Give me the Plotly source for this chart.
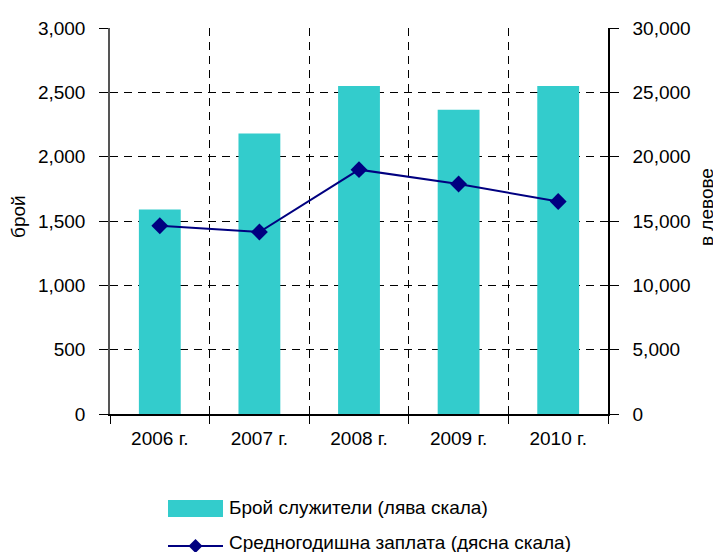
import plotly.graph_objects as go

years = ["2006 г.", "2007 г.", "2008 г.", "2009 г.", "2010 г."]
employees = [1590, 2180, 2550, 2365, 2550]
avg_salary = [14630, 14140, 18990, 17870, 16520]
left_ticks = [0, 500, 1000, 1500, 2000, 2500, 3000]
right_ticks = [0, 5000, 10000, 15000, 20000, 25000, 30000]
bar_name = "Брой служители (лява скала)"
line_name = "Средногодишна заплата (дясна скала)"
left_title = "брой"
right_title = "в левове"

FONT = "Liberation Sans Narrow, Arial Narrow, Liberation Sans, Arial, sans-serif"
BAR_COLOR = "#33CCCC"
LINE_COLOR = "#000080"

OFF = 8  # page body margin offset
W, H = 721 - OFF, 552 - OFF
# plot area in page pixels -> figure pixels
L, R, T, B = 110 - OFF, 608 - OFF, 28 - OFF, 414 - OFF

fig = go.Figure()
fig.add_trace(go.Bar(x=years, y=employees, name=bar_name, marker_color=BAR_COLOR,
                     marker_line_width=0, yaxis="y", showlegend=False))
fig.add_trace(go.Scatter(x=years, y=avg_salary, name=line_name, mode="lines+markers",
                         line=dict(color=LINE_COLOR, width=2),
                         marker=dict(symbol="diamond", size=13, color=LINE_COLOR),
                         yaxis="y2", showlegend=False))

grid = dict(gridcolor="black", griddash="8px,6px", gridwidth=1)

fig.update_layout(
    width=W, height=H,
    margin=dict(l=L, r=W - R, t=T, b=H - B, autoexpand=False),
    paper_bgcolor="white", plot_bgcolor="white",
    font=dict(family=FONT, size=19, color="black"),
    bargap=0.58,
    xaxis=dict(type="category", tickson="boundaries", showgrid=True, **grid,
               showline=True, linecolor="black", linewidth=1.5,
               ticks="outside", ticklen=8, tickcolor="black",
               ticklabelstandoff=6, range=[-0.5, 4.5], automargin=False),
    yaxis=dict(range=[0, 3000], tickvals=left_ticks, tickformat=",d",
               showgrid=True, **grid, zeroline=False,
               showline=True, linecolor="#555555", linewidth=1.5,
               ticks="outside", ticklen=9, tickcolor="black", ticklabelstandoff=10,
               automargin=False),
    yaxis2=dict(range=[0, 30000], tickvals=right_ticks, tickformat=",d",
                overlaying="y", side="right", showgrid=False, zeroline=False,
                showline=True, linecolor="black", linewidth=1.5,
                ticks="outside", ticklen=9, tickcolor="black", ticklabelstandoff=10,
                automargin=False),
)

def px_x(p):
    # p given in page pixels
    return (p - OFF - L) / float(R - L)

def px_y(p):
    return (B - (p - OFF)) / float(B - T)

# Axis titles
fig.add_annotation(xref="paper", yref="paper", x=px_x(18), y=px_y(217),
                   text=left_title, textangle=-90, showarrow=False,
                   xanchor="center", yanchor="middle",
                   font=dict(family=FONT, size=19, color="black"))
fig.add_annotation(xref="paper", yref="paper", x=px_x(706), y=px_y(207),
                   text=right_title, textangle=-90, showarrow=False,
                   xanchor="center", yanchor="middle",
                   font=dict(family=FONT, size=19, color="black"))

# Manual legend (swatch, line sample and texts)
fig.add_shape(type="rect", xref="paper", yref="paper",
              x0=px_x(168), x1=px_x(223), y0=px_y(500), y1=px_y(517),
              fillcolor=BAR_COLOR, line_width=0)
fig.add_shape(type="line", xref="paper", yref="paper",
              x0=px_x(168), x1=px_x(223), y0=px_y(546), y1=px_y(546),
              line=dict(color=LINE_COLOR, width=2))
cx, cy, r = 195.5, 546, 7
fig.add_shape(type="path", xref="paper", yref="paper",
              path=f"M {px_x(cx - r)} {px_y(cy)} L {px_x(cx)} {px_y(cy - r)} "
                   f"L {px_x(cx + r)} {px_y(cy)} L {px_x(cx)} {px_y(cy + r)} Z",
              fillcolor=LINE_COLOR, line_width=0)
fig.add_annotation(xref="paper", yref="paper", x=px_x(227), y=px_y(507),
                   text=bar_name, showarrow=False, xanchor="left", yanchor="middle",
                   font=dict(family=FONT, size=19, color="black"))
fig.add_annotation(xref="paper", yref="paper", x=px_x(227), y=px_y(542),
                   text=line_name, showarrow=False, xanchor="left", yanchor="middle",
                   font=dict(family=FONT, size=19, color="black"))

fig.write_html("out.html")
